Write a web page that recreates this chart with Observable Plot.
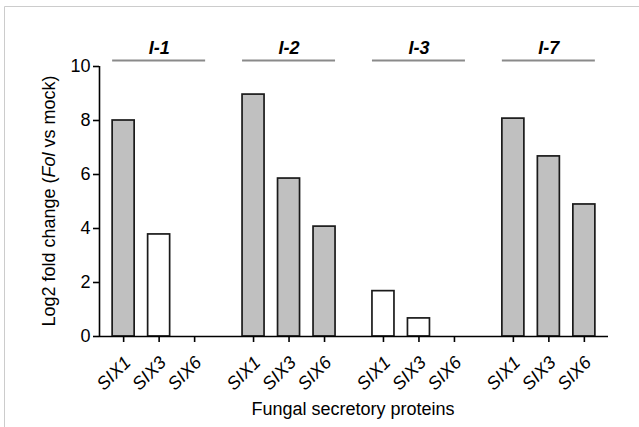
<!DOCTYPE html>
<html><head><meta charset="utf-8">
<script src="https://cdn.jsdelivr.net/npm/d3@7"></script>
<script src="https://cdn.jsdelivr.net/npm/@observablehq/plot@0.6"></script>
<style>body{margin:0;background:#fff}</style>
</head><body><div id="chart"></div>
<script>
const groups = ["I-1", "I-2", "I-3", "I-7"];
const genes = ["SIX1", "SIX3", "SIX6"];
const valuesI1 = [8.0, 3.78, 0];
const valuesI2 = [8.96, 5.85, 4.07];
const valuesI3 = [1.68, 0.67, 0];
const valuesI7 = [8.07, 6.67, 4.89];
const filledI1 = [true, false, false];
const filledI2 = [true, true, true];
const filledI3 = [false, false, false];
const filledI7 = [true, true, true];
const yTicks = [0, 2, 4, 6, 8, 10];
const yTitle = ["Log2 fold change (", "Fol", " vs mock)"];
const xTitle = "Fungal secretory proteins";

const seriesValues = [valuesI1, valuesI2, valuesI3, valuesI7];
const seriesFilled = [filledI1, filledI2, filledI3, filledI7];
const groupStep = 3.66;
const half = 0.31;
const rows = groups.flatMap((g, gi) => genes.map((s, j) => ({
  group: g, gene: s, pos: gi * groupStep + j,
  value: seriesValues[gi][j], filled: seriesFilled[gi][j]
})));
const groupRows = groups.map((g, gi) => ({
  group: g, center: gi * groupStep + 1,
  start: gi * groupStep - half, end: gi * groupStep + 2 + half
}));
const xMin = -0.68, xMax = 13.66;

const font = "'Liberation Sans', Arial, sans-serif";
const plot = Plot.plot({
  width: 639, height: 427,
  marginLeft: 99, marginRight: 31, marginTop: 66, marginBottom: 91,
  style: {fontFamily: font, fontSize: "18px", color: "#000", background: "#fff", overflow: "visible"},
  x: {domain: [xMin, xMax]},
  y: {domain: [0, 10]},
  marks: [
    Plot.rectY(rows.filter(d => d.value > 0 && d.filled), {x1: d => d.pos - half, x2: d => d.pos + half, y1: 0, y2: "value", fill: "#c0c0c0", stroke: "#1a1a1a", strokeWidth: 1.7}),
    Plot.rectY(rows.filter(d => d.value > 0 && !d.filled), {x1: d => d.pos - half, x2: d => d.pos + half, y1: 0, y2: "value", fill: "#fff", stroke: "#1a1a1a", strokeWidth: 1.7}),
    Plot.ruleY([0], {stroke: "#000", strokeWidth: 1.6}),
    Plot.ruleX([xMin], {y1: 0, y2: 10, stroke: "#000", strokeWidth: 1.6}),
    Plot.axisY({ticks: yTicks, tickSize: 6, tickPadding: 3, fontSize: 18, label: null, strokeWidth: 1.6}),
    Plot.axisX({ticks: rows.map(d => d.pos), tickFormat: () => "", tickSize: 6, label: null, strokeWidth: 1.6}),
    Plot.text(rows, {x: "pos", y: 0, text: "gene", rotate: -45, textAnchor: "end", dx: 4, dy: 23, fontStyle: "italic", fontSize: 18}),
    Plot.ruleY(groupRows, {y: 10.22, x1: "start", x2: "end", stroke: "#8a8a8a", strokeWidth: 2}),
    Plot.text(groupRows, {x: "center", y: 10.67, text: "group", fontWeight: "bold", fontStyle: "italic", fontSize: 18})
  ]
});
document.getElementById("chart").appendChild(plot);

const svg = d3.select(plot);
svg.append("line").attr("x1", 4.5).attr("x2", 4.5).attr("y1", 6.5).attr("y2", 427).attr("stroke", "#cccccc");
svg.append("line").attr("x1", 4.5).attr("x2", 639).attr("y1", 6.5).attr("y2", 6.5).attr("stroke", "#cccccc");

const yt = svg.append("text")
  .attr("transform", "translate(55,201) rotate(-90)")
  .attr("text-anchor", "middle")
  .attr("font-family", font).attr("font-size", 18).attr("fill", "#000");
yt.append("tspan").text(yTitle[0]);
yt.append("tspan").attr("font-style", "italic").text(yTitle[1]);
yt.append("tspan").text(yTitle[2]);

svg.append("text").attr("x", 353).attr("y", 415).attr("text-anchor", "middle")
  .attr("font-family", font).attr("font-size", 18).attr("fill", "#000").text(xTitle);
</script></body></html>
